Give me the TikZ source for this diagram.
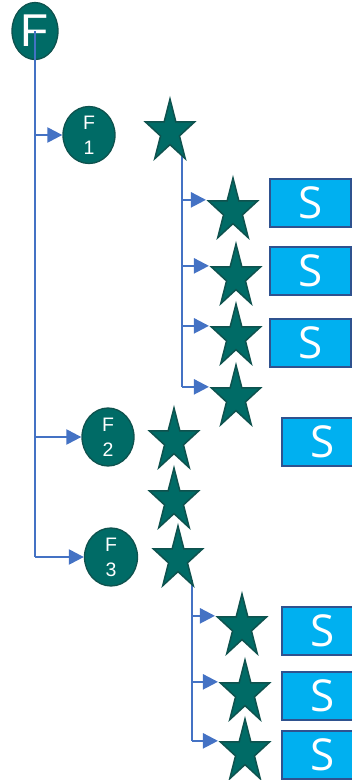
\documentclass[tikz,border=0pt]{standalone}
\usepackage{fontspec}
\setmainfont{Liberation Sans}
\newfontfamily\boxfont{Open Sans}
\usetikzlibrary{shapes.geometric, arrows.meta, backgrounds}

\definecolor{tealfill}{RGB}{0,107,102}
\definecolor{tealedge}{RGB}{14,82,78}
\definecolor{linkblue}{RGB}{68,114,196}
\definecolor{boxfill}{RGB}{0,176,240}
\definecolor{boxedge}{RGB}{47,82,143}

\begin{document}
\begin{tikzpicture}[x=1pt, y=-1pt,
  fnode/.style={ellipse, draw=tealedge, line width=1.3pt, fill=tealfill,
                text=white, align=center, inner sep=0pt,
                font=\fontsize{19.5}{25}\selectfont},
  leaf/.style={star, star points=5, star point ratio=2.618, draw=tealedge,
               line width=1.5pt, fill=tealfill, minimum size=52pt,
               inner sep=0pt, yscale=1.27, transform shape},
  sbox/.style={draw=boxedge, line width=2pt, fill=boxfill, text=white,
               minimum width=81pt, minimum height=48pt, inner sep=0pt,
               font=\boxfont\fontsize{44}{44}\selectfont},
  link/.style={draw=linkblue, line width=2.3pt},
  arr/.style={link, -{Triangle[length=15pt, width=15pt]}},
]
\useasboundingbox (0,0) rectangle (352,780);
\clip (0,0) rectangle (352,780);

%% ---- Root and its three children ----

\node[fnode, minimum width=46pt, minimum height=57pt,
      font=\fontsize{46}{46}\selectfont] (root) at (35,31) {F};

\node[fnode, minimum width=52pt, minimum height=57pt] (f1) at (89,135) {F\\1};
\node[fnode, minimum width=52pt, minimum height=58pt] (f2) at (108,437) {F\\2};
\node[fnode, minimum width=53pt, minimum height=58pt] (f3) at (111,557) {F\\3};

\draw[link] (root.center) -- (root.center |- f3.west);
\draw[arr] (root.center |- f1.west) -- (f1.west);
\draw[arr] (root.center |- f2.west) -- (f2.west);
\draw[arr] (root.center |- f3.west) -- (f3.west);

%% ---- Stars beside F1 ----

\node[leaf] (s1) at (170,132) {};
\node[leaf] (s1a) at (233,211) {};
\node[leaf] (s1b) at (236,277) {};
\node[leaf] (s1c) at (236,337) {};
\node[leaf] (s1d) at (236,398) {};

\coordinate (t1) at (182,152);
\begin{pgfonlayer}{background}
\draw[link] (t1) -- (t1 |- s1d.outer point 2);
\end{pgfonlayer}
\draw[arr] (t1 |- s1a.outer point 2) -- (s1a.outer point 2);
\draw[arr] (t1 |- s1b.outer point 2) -- (s1b.outer point 2);
\draw[arr] (t1 |- s1c.outer point 2) -- (s1c.outer point 2);
\draw[arr] (t1 |- s1d.outer point 2) -- (s1d.outer point 2);

\node[sbox] (b1) at (310.5,203) {S};
\node[sbox] (b2) at (310.5,271) {S};
\node[sbox] (b3) at (310.5,343) {S};

%% ---- Stars beside F2 ----

\node[leaf] (s2) at (174,441) {};
\node[leaf] (s2a) at (174,501) {};

\node[sbox] (b4) at (322.5,441.5) {S};

%% ---- Stars beside F3 ----

\node[leaf] (s3) at (178,559) {};
\node[leaf] (s3a) at (242,627) {};
\node[leaf] (s3b) at (245,693) {};
\node[leaf] (s3c) at (245,752) {};

\coordinate (t3) at (192,580);
\begin{pgfonlayer}{background}
\draw[link] (t3) -- (t3 |- s3c.outer point 2);
\end{pgfonlayer}
\draw[arr] (t3 |- s3a.outer point 2) -- (s3a.outer point 2);
\draw[arr] (t3 |- s3b.outer point 2) -- (s3b.outer point 2);
\draw[arr] (t3 |- s3c.outer point 2) -- (s3c.outer point 2);

\node[sbox] (b5) at (322.5,630.5) {S};
\node[sbox] (b6) at (322.5,696) {S};
\node[sbox] (b7) at (322.5,754.5) {S};

\end{tikzpicture}
\end{document}
